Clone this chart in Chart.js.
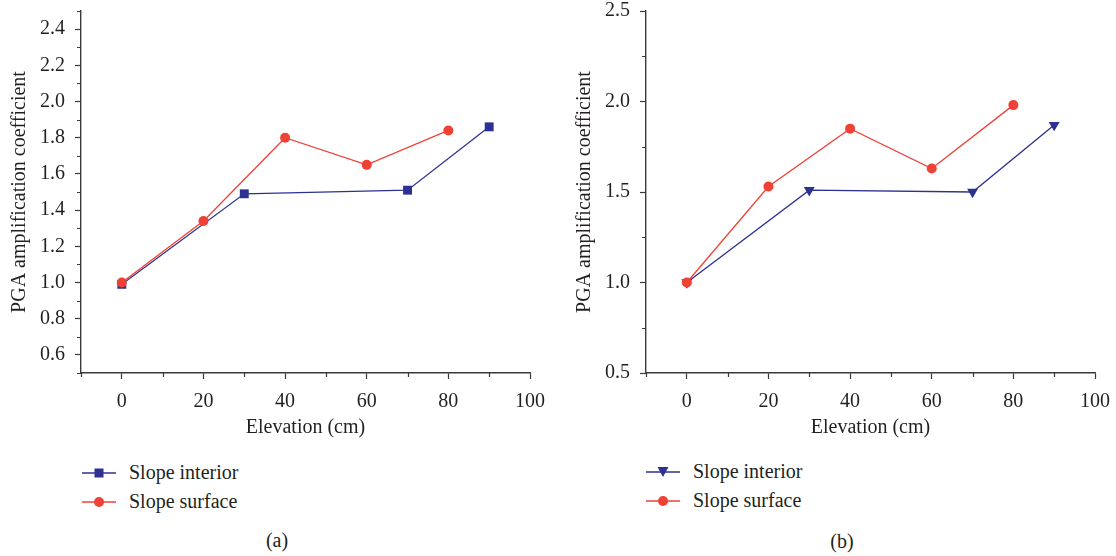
<!DOCTYPE html>
<html>
<head>
<meta charset="utf-8">
<script src="https://cdn.jsdelivr.net/npm/chart.js@4/dist/chart.umd.min.js"></script>
<style>
  body { margin: 0; background: #fff; width: 1116px; height: 556px; position: relative; overflow: hidden;
         font-family: "Liberation Serif", "DejaVu Serif", serif; color: #231f20; }
  .painel { position: absolute; top: -11px; }
  .legenda { position: absolute; font-size: 20px; }
  .item { display: flex; align-items: center; height: 29px; }
  .item svg { margin-right: 13px; }
  .rotulo { position: absolute; font-size: 20px; transform: translate(-50%, -50%); }
</style>
</head>
<body>
<canvas id="graficoA" class="painel" width="556" height="452" style="left:0px"></canvas>
<canvas id="graficoB" class="painel" width="556" height="452" style="left:565px"></canvas>

<div class="legenda" style="left:82px; top:458px">
  <div class="item"><svg width="34" height="12"><line x1="0" y1="6" x2="34" y2="6" stroke="#2e3192" stroke-width="1.3"/><rect x="12.5" y="1.5" width="9" height="9" fill="#2e3192"/></svg>Slope interior</div>
  <div class="item"><svg width="34" height="12"><line x1="0" y1="6" x2="34" y2="6" stroke="#ef4136" stroke-width="1.3"/><circle cx="17" cy="6" r="5" fill="#ef4136"/></svg>Slope surface</div>
</div>
<div class="legenda" style="left:646px; top:457px">
  <div class="item"><svg width="34" height="12"><line x1="0" y1="6" x2="34" y2="6" stroke="#2e3192" stroke-width="1.3"/><polygon points="11.5,1 22.5,1 17,11" fill="#2e3192"/></svg>Slope interior</div>
  <div class="item"><svg width="34" height="12"><line x1="0" y1="6" x2="34" y2="6" stroke="#ef4136" stroke-width="1.3"/><circle cx="17" cy="6" r="5" fill="#ef4136"/></svg>Slope surface</div>
</div>
<div class="rotulo" style="left:277px; top:540px">(a)</div>
<div class="rotulo" style="left:842px; top:541px">(b)</div>

<script>
// dados (a)
const elevacaoInteriorA = [0, 30, 70, 90];
const interiorA = [0.99, 1.49, 1.51, 1.86];
const elevacaoSuperficieA = [0, 20, 40, 60, 80];
const superficieA = [1.0, 1.34, 1.80, 1.65, 1.84];

// dados (b)
const elevacaoInteriorB = [0, 30, 70, 90];
const interiorB = [1.0, 1.51, 1.50, 1.87];
const elevacaoSuperficieB = [0, 20, 40, 60, 80];
const superficieB = [1.0, 1.53, 1.85, 1.63, 1.98];

// marcas dos eixos
const marcasX = [-10, 0, 10, 20, 30, 40, 50, 60, 70, 80, 90, 100];
const rotulosX = [0, 20, 40, 60, 80, 100];
const marcasYA = [0.5, 0.6, 0.7, 0.8, 0.9, 1.0, 1.1, 1.2, 1.3, 1.4, 1.5, 1.6, 1.7, 1.8, 1.9, 2.0, 2.1, 2.2, 2.3, 2.4, 2.5];
const rotulosYA = [0.6, 0.8, 1.0, 1.2, 1.4, 1.6, 1.8, 2.0, 2.2, 2.4];
const marcasYB = [0.5, 0.75, 1.0, 1.25, 1.5, 1.75, 2.0, 2.25, 2.5];
const rotulosYB = [0.5, 1.0, 1.5, 2.0, 2.5];

const azul = '#2e3192';
const vermelho = '#ef4136';
const corEixo = '#3a3a3a';
const fonte = { family: '"Liberation Serif", "DejaVu Serif", serif', size: 20 };

function temRotulo(lista, v) {
    return lista.some(r => Math.abs(r - v) < 1e-6);
}

// desenha as marcas menores mais curtas
const marcasMenores = {
    id: 'marcasMenores',
    afterDraw(chart) {
        const { ctx, chartArea, scales } = chart;
        ctx.save();
        ctx.strokeStyle = corEixo;
        ctx.lineWidth = 1.2;
        ctx.beginPath();
        scales.x.ticks.forEach(t => {
            if (t.label) return;
            const px = Math.round(scales.x.getPixelForValue(t.value)) + 0.5;
            ctx.moveTo(px, chartArea.bottom);
            ctx.lineTo(px, chartArea.bottom + 4);
        });
        scales.y.ticks.forEach(t => {
            if (t.label) return;
            const py = Math.round(scales.y.getPixelForValue(t.value)) + 0.5;
            ctx.moveTo(chartArea.left, py);
            ctx.lineTo(chartArea.left - 4, py);
        });
        ctx.stroke();
        ctx.restore();
    }
};

function pontos(xs, ys) {
    return xs.map((x, i) => ({ x: x, y: ys[i] }));
}

function criarGrafico(id, xsInt, ysInt, xsSup, ysSup, marcasY, rotulosY, estiloInterior) {
    const ctx = document.getElementById(id).getContext('2d');
    const interior = {
        label: 'Slope interior',
        data: pontos(xsInt, ysInt),
        borderColor: azul,
        backgroundColor: azul,
        borderWidth: 1.3,
        pointStyle: estiloInterior,
        pointRadius: 6.3,
        pointRotation: estiloInterior === 'triangle' ? 180 : 0,
        pointBorderWidth: 0,
        order: 1
    };
    const superficie = {
        label: 'Slope surface',
        data: pontos(xsSup, ysSup),
        borderColor: vermelho,
        backgroundColor: vermelho,
        borderWidth: 1.3,
        pointStyle: 'circle',
        pointRadius: 5,
        pointBorderWidth: 0,
        order: 0
    };
    return new Chart(ctx, {
        type: 'line',
        data: { datasets: [interior, superficie] },
        options: {
            responsive: false,
            animation: false,
            devicePixelRatio: 1,
            layout: { padding: { top: 13, right: 19, bottom: 0, left: 0 } },
            plugins: { legend: { display: false }, tooltip: { enabled: false } },
            scales: {
                x: {
                    type: 'linear',
                    min: -10,
                    max: 100,
                    afterBuildTicks: (scale) => { scale.ticks = marcasX.map(v => ({ value: v })); },
                    afterFit: (scale) => { scale.height = 68; },
                    ticks: {
                        autoSkip: false,
                        maxRotation: 0,
                        padding: 11,
                        color: '#231f20',
                        font: fonte,
                        callback: (v) => temRotulo(rotulosX, v) ? String(v) : ''
                    },
                    grid: {
                        drawOnChartArea: false,
                        drawTicks: true,
                        tickLength: 6,
                        tickWidth: 1.2,
                        tickColor: (c) => (c.tick && c.tick.label) ? corEixo : 'rgba(0,0,0,0)'
                    },
                    border: { color: corEixo, width: 1.4 },
                    title: { display: true, text: 'Elevation (cm)', color: '#231f20', font: fonte, padding: { top: 0, bottom: 1 } }
                },
                y: {
                    type: 'linear',
                    min: 0.5,
                    max: 2.5,
                    afterBuildTicks: (scale) => { scale.ticks = marcasY.map(v => ({ value: v })); },
                    afterFit: (scale) => { scale.width = 81; },
                    ticks: {
                        autoSkip: false,
                        padding: 10,
                        color: '#231f20',
                        font: fonte,
                        callback: (v) => temRotulo(rotulosY, v) ? Number(v).toFixed(1) : ''
                    },
                    grid: {
                        drawOnChartArea: false,
                        drawTicks: true,
                        tickLength: 6,
                        tickWidth: 1.2,
                        tickColor: (c) => (c.tick && c.tick.label) ? corEixo : 'rgba(0,0,0,0)'
                    },
                    border: { color: corEixo, width: 1.4 },
                    title: { display: true, text: 'PGA amplification coefficient', color: '#231f20', font: fonte, padding: { top: 8, bottom: 0 } }
                }
            }
        },
        plugins: [marcasMenores]
    });
}

criarGrafico('graficoA', elevacaoInteriorA, interiorA, elevacaoSuperficieA, superficieA, marcasYA, rotulosYA, 'rect');
criarGrafico('graficoB', elevacaoInteriorB, interiorB, elevacaoSuperficieB, superficieB, marcasYB, rotulosYB, 'triangle');
</script>
</body>
</html>
